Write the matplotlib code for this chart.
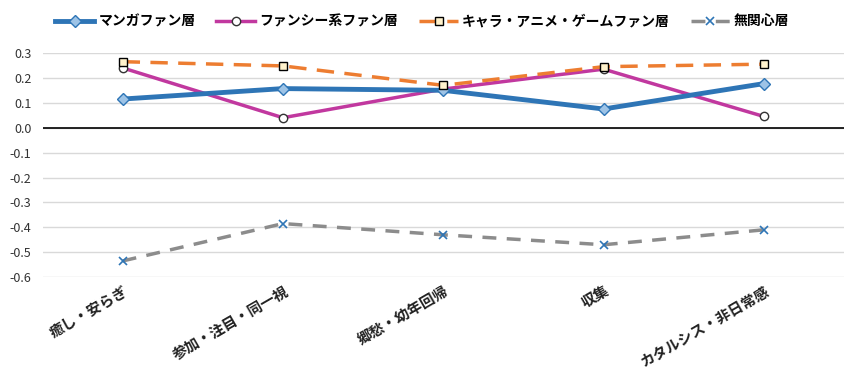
import matplotlib.pyplot as plt

plt.rcParams['font.family'] = ['Noto Sans CJK JP', 'DejaVu Sans']

# categories and series
categories = ['癒し・安らぎ', '参加・注目・同一視', '郷愁・幼年回帰', '収集', 'カタルシス・非日常感']
manga = [0.115, 0.157, 0.150, 0.075, 0.177]
fancy = [0.240, 0.040, 0.155, 0.235, 0.045]
chara = [0.265, 0.248, 0.170, 0.245, 0.255]
mukanshin = [-0.535, -0.385, -0.430, -0.470, -0.410]
yticks = [0.3, 0.2, 0.1, 0.0, -0.1, -0.2, -0.3, -0.4, -0.5, -0.6]

fig = plt.figure(figsize=(8.5, 3.73), dpi=100)
ax = fig.add_axes([0.05, 0.257, 0.943, 0.601])
x = list(range(len(categories)))

ax.plot(x, manga, color='#2e75b6', lw=3.5, marker='D', ms=6,
        mfc='#9dc3e6', mec='#2e75b6', mew=1, label='マンガファン層', zorder=4)
ax.plot(x, fancy, color='#c1389f', lw=2.5, marker='o', ms=6,
        mfc='white', mec='#333333', mew=1, label='ファンシー系ファン層', zorder=3)
ax.plot(x, chara, color='#ed7d31', lw=2.5, ls=(0, (5, 3)), marker='s', ms=5.5,
        mfc='#fff2cc', mec='black', mew=1, label='キャラ・アニメ・ゲームファン層', zorder=5)
ax.plot(x, mukanshin, color='#8c8c8c', lw=2.5, ls=(0, (4, 3)), marker='x', ms=6,
        mec='#2e75b6', mew=1.2, label='無関心層', zorder=3)

ax.set_xlim(-0.5, len(categories) - 0.5)
ax.set_ylim(-0.6, 0.3)
ax.set_yticks(yticks)
ax.set_yticklabels([f'{v:.1f}' for v in yticks], fontsize=9, color='#333333')
ax.yaxis.grid(True, color='#d9d9d9', lw=1)
ax.set_axisbelow(True)
ax.axhline(0, color='black', lw=1.2, zorder=2)
for s in ax.spines.values():
    s.set_visible(False)
ax.tick_params(length=0, pad=8)

ax.set_xticks(x)
ax.set_xticklabels(categories, rotation=30, ha='right', rotation_mode='anchor',
                   fontsize=10.5, fontweight='bold', color='#222222')
ax.tick_params(axis='x', pad=4)

fig.legend(loc='upper center', bbox_to_anchor=(0.497, 0.995), ncol=4, frameon=False,
           handlelength=2.8, handletextpad=0.3, columnspacing=1.5,
           prop={'weight': 'bold', 'size': 10})

fig.savefig('out.png', dpi=100)
